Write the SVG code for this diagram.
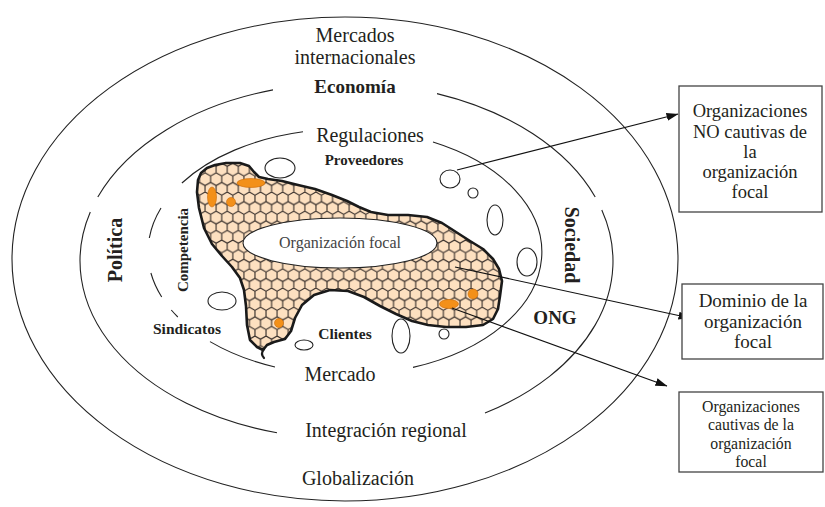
<svg xmlns="http://www.w3.org/2000/svg" width="825" height="507" viewBox="0 0 825 507">
<style>
.ring{fill:none;stroke:#222;stroke-width:1.1}
.t{font-family:"Liberation Serif","Times New Roman",serif;fill:#231f20;text-anchor:middle}
.b{font-weight:bold}
.box{fill:#fff;stroke:#444;stroke-width:1.3}
.wc{fill:#fff;stroke:#222;stroke-width:1.1}
.or{fill:#f39019;stroke:#c96a08;stroke-width:0.6}
.con{fill:none;stroke:#111;stroke-width:1.2}
</style>
<defs>
<pattern id="hex" patternUnits="userSpaceOnUse" width="11.085" height="19.2" x="0" y="0">
<rect width="11.085" height="19.2" fill="#fde0c0"/>
<path d="M5.5425,0 L11.085,3.2 L11.085,9.6 L5.5425,12.8 L0,9.6 L0,3.2 Z M5.5425,12.8 L5.5425,19.2" fill="none" stroke="#2e2623" stroke-width="1.05"/>
</pattern>
<marker id="ah" markerWidth="12" markerHeight="10" refX="11.5" refY="5" orient="auto" markerUnits="userSpaceOnUse">
<path d="M0,1 L12,5 L0,9 Z" fill="#111"/>
</marker>
</defs>
<rect width="825" height="507" fill="#fff"/>

<g id="rings">
<ellipse class="ring" cx="345" cy="259" rx="333" ry="242"/>
<path class="ring" d="M437,93.6 A266.5,178 0 0 1 595.2,197"/>
<path class="ring" d="M601.8,210 A266.5,178 0 0 1 485,413.1"/>
<path class="ring" d="M277,432.8 A266.5,178 0 0 1 90.3,212"/>
<path class="ring" d="M97.8,197 A266.5,178 0 0 1 273,89.9"/>
<path class="ring" d="M181.9,183 A197,123 0 0 1 303,131.8"/>
<path class="ring" d="M433,142 A197,123 0 0 1 413,367.4"/>
<path class="ring" d="M275,367 A197,123 0 0 1 210,341.6"/>
<path class="ring" d="M177.8,317 A197,123 0 0 1 171.3,310"/>
<path class="ring" d="M161.7,297 A197,123 0 0 1 150.9,273"/>
<path class="ring" d="M149.3,238 A197,123 0 0 1 161,208"/>
</g>

<g id="ring-labels">
<text class="t" x="355" y="42" font-size="20">Mercados</text>
<text class="t" x="355" y="64" font-size="20">internacionales</text>
<text class="t b" x="355" y="93" font-size="19">Economía</text>
<text class="t" x="370" y="142" font-size="20">Regulaciones</text>
<text class="t" x="340" y="381" font-size="20">Mercado</text>
<text class="t" x="386" y="437" font-size="20">Integración regional</text>
<text class="t" x="358" y="485" font-size="20">Globalización</text>
<text class="t b" font-size="20" transform="translate(122,250) rotate(-90)">Política</text>
<text class="t b" font-size="15" transform="translate(188,250) rotate(-90)">Competencia</text>
<text class="t b" font-size="20" transform="translate(565,245) rotate(90)">Sociedad</text>
<text class="t b" x="555" y="324" font-size="19">ONG</text>
<text class="t b" x="364" y="165" font-size="15">Proveedores</text>
<text class="t b" x="345" y="339" font-size="15.5">Clientes</text>
<text class="t b" x="187" y="334" font-size="15.5">Sindicatos</text>
</g>

<g id="dominio">
<path d="M198,180 L201,173 L207,168 L215,165 L226,163 L240,163 L249,166 L254,172 L259,177 L268,179 L282,181 L298,185 L315,189 L332,195 L347,201 L359,207 L371,212 L388,215 L408,215 L427,217 L442,223 L456,232 L470,241 L483,249 L493,259 L499,269 L502,281 L500,296 L498,309 L493,319 L483,325 L466,327 L446,327 L428,325 L412,321 L396,314 L380,306 L364,297 L348,291 L330,290 L314,295 L302,305 L295,318 L291,331 L285,339 L274,342 L267,345 L263,350 L257,347 L250,340 L247,325 L246,306 L244,290 L240,278 L232,267 L222,256 L212,244 L204,228 L199,208 L197,192 Z" fill="url(#hex)" stroke="#1a1a1a" stroke-width="2.6" stroke-linejoin="round"/>
<path d="M264,349 Q260,354 264,358" fill="none" stroke="#1a1a1a" stroke-width="2.2" stroke-linecap="round"/>
<ellipse class="or" cx="251" cy="183" rx="14" ry="4.5"/>
<ellipse class="or" cx="212" cy="197" rx="4.5" ry="10"/>
<circle class="or" cx="231" cy="202" r="4.5"/>
<circle class="or" cx="473" cy="294" r="5"/>
<ellipse class="or" cx="449" cy="304" rx="9.5" ry="4.5"/>
<circle class="or" cx="279" cy="323" r="4.5"/>
</g>

<g id="focal">
<ellipse cx="340" cy="243" rx="97" ry="25" fill="#fff" stroke="#222" stroke-width="1.1"/>
<text class="t" x="340" y="248" font-size="16" style="fill:#444">Organización focal</text>
</g>

<g id="otras-organizaciones">
<ellipse class="wc" cx="280" cy="168" rx="15" ry="10"/>
<ellipse class="wc" cx="450" cy="179" rx="10" ry="9"/>
<circle class="wc" cx="473" cy="193" r="5"/>
<ellipse class="wc" cx="495" cy="220" rx="8" ry="15"/>
<ellipse class="wc" cx="527" cy="262" rx="10" ry="14"/>
<ellipse class="wc" cx="222" cy="301" rx="14" ry="9"/>
<ellipse class="wc" cx="304" cy="345" rx="9" ry="5"/>
<ellipse class="wc" cx="401" cy="336" rx="9" ry="17"/>
<circle class="wc" cx="444" cy="334" r="5"/>
</g>

<g id="connectors">
<line class="con" x1="457" y1="170" x2="678" y2="114" marker-end="url(#ah)"/>
<line class="con" x1="455" y1="267" x2="690" y2="318" marker-end="url(#ah)"/>
<line class="con" x1="452" y1="308" x2="667" y2="386" marker-end="url(#ah)"/>
</g>

<g id="box-no-cautivas">
<rect class="box" x="679" y="86" width="143" height="126"/>
<text class="t" x="750" font-size="18.5"><tspan x="750" y="117">Organizaciones</tspan><tspan x="750" y="137.5">NO cautivas de</tspan><tspan x="750" y="158">la</tspan><tspan x="750" y="178">organización</tspan><tspan x="750" y="198">focal</tspan></text>
</g>

<g id="box-dominio">
<rect class="box" x="682" y="284" width="141" height="75"/>
<text class="t" x="753" font-size="19"><tspan x="753" y="307">Dominio de la</tspan><tspan x="753" y="328">organización</tspan><tspan x="753" y="348">focal</tspan></text>
</g>

<g id="box-cautivas">
<rect class="box" x="679" y="392" width="144" height="80"/>
<text class="t" x="751" font-size="15.8"><tspan x="751" y="411.5">Organizaciones</tspan><tspan x="751" y="430">cautivas de la</tspan><tspan x="751" y="448.5">organización</tspan><tspan x="751" y="467">focal</tspan></text>
</g>
</svg>
